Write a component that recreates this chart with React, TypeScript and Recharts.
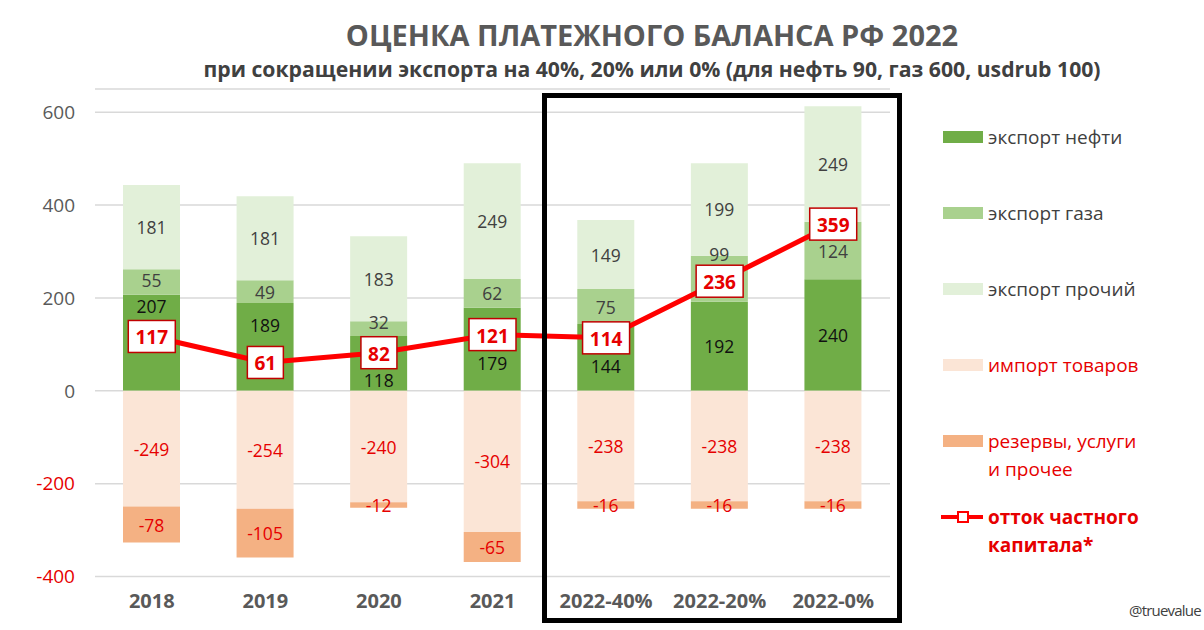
import React from 'react';
import {
  ComposedChart,
  Bar,
  Line,
  XAxis,
  YAxis,
  CartesianGrid,
  LabelList,
} from 'recharts';

// Payment balance, bln USD
const CATEGORIES = ['2018', '2019', '2020', '2021', '2022-40%', '2022-20%', '2022-0%'];
const OIL = [207, 189, 118, 179, 144, 192, 240];
const GAS = [55, 49, 32, 62, 75, 99, 124];
const OTHER = [181, 181, 183, 249, 149, 199, 249];
const IMPORTS = [-249, -254, -240, -304, -238, -238, -238];
const RESERVES = [-78, -105, -12, -65, -16, -16, -16];
const OUTFLOW = [117, 61, 82, 121, 114, 236, 359];
const Y_TICKS = [-400, -200, 0, 200, 400, 600];

// labels that were dragged by hand in the original so they don't hit the line boxes (px)
const OIL_NUDGE = [-37, -22, 17, 14, 9, 0, 0];
const GAS_NUDGE = [-2, 0, -7, 0, 0, -25, 0];

const FONT = '"Open Sans", "Noto Sans", sans-serif';
const RED = '#E60000';
const DARK = '#404040';
const GRAY = '#595959';

const SERIES = [
  { key: 'oil', name: 'экспорт нефти', color: '#70AD47', text: DARK },
  { key: 'gas', name: 'экспорт газа', color: '#A9D18E', text: DARK },
  { key: 'other', name: 'экспорт прочий', color: '#E2F0D9', text: DARK },
  { key: 'imports', name: 'импорт товаров', color: '#FBE5D6', text: RED },
  { key: 'reserves', name: 'резервы, услуги\nи прочее', color: '#F4B183', text: RED },
];

const data = CATEGORIES.map((period, i) => ({
  period,
  oil: OIL[i],
  gas: GAS[i],
  other: OTHER[i],
  imports: IMPORTS[i],
  reserves: RESERVES[i],
  outflow: OUTFLOW[i],
}));

function barLabel(color: string, nudge?: number[]) {
  return (props: any) => {
    const { x, y, width, height, value, index } = props;
    const dy = nudge ? nudge[index] || 0 : 0;
    return (
      <text
        x={Number(x) + Number(width) / 2}
        y={Number(y) + Number(height) / 2 + dy}
        fill={color}
        textAnchor="middle"
        dominantBaseline="central"
        fontSize={17.5}
        fontFamily={FONT}
      >
        {value}
      </text>
    );
  };
}

function OutflowLabel(props: any) {
  const { x, y, value } = props;
  const w = String(value).length * 11 + 14;
  return (
    <g>
      <rect x={x - w / 2} y={y - 16} width={w} height={32} fill="#fff" stroke="#C00000" strokeWidth={1.5} />
      <text
        x={x}
        y={y + 1}
        fill={RED}
        textAnchor="middle"
        dominantBaseline="central"
        fontSize={19}
        fontWeight="bold"
        fontFamily={FONT}
      >
        {value}
      </text>
    </g>
  );
}

function YTick({ x, y, payload }: any) {
  return (
    <text x={x} y={y} dy="0.36em" textAnchor="end" fontSize={19} fontFamily={FONT} fill={payload.value < 0 ? RED : GRAY}>
      {payload.value}
    </text>
  );
}

function XTick({ x, y, payload }: any) {
  return (
    <text x={x} y={y + 24} textAnchor="middle" dominantBaseline="central" fontSize={20} fontWeight="bold" fontFamily={FONT} fill={GRAY}>
      {payload.value}
    </text>
  );
}

function LegendBlock() {
  return (
    <div style={{ position: 'absolute', left: 941, top: 123, width: 263, fontFamily: FONT, fontSize: 19, lineHeight: '28px' }}>
      {SERIES.map(s => (
        <div key={s.key} style={{ height: 76, display: 'flex', alignItems: 'flex-start' }}>
          <div style={{ width: 40, height: 12, marginTop: 8, marginLeft: 2, background: s.color, flexShrink: 0 }} />
          <div style={{ marginLeft: 5, color: s.text, whiteSpace: 'pre' }}>{s.name}</div>
        </div>
      ))}
      <div style={{ display: 'flex', alignItems: 'flex-start' }}>
        <svg width={44} height={28} style={{ flexShrink: 0 }}>
          <line x1={0} y1={14} x2={42} y2={14} stroke="#FF0000" strokeWidth={4} />
          <rect x={17} y={9} width={10} height={10} fill="#fff" stroke="#FF0000" strokeWidth={2} />
        </svg>
        <div style={{ marginLeft: 3, color: RED, fontWeight: 'bold', whiteSpace: 'pre' }}>{'отток частного\nкапитала*'}</div>
      </div>
    </div>
  );
}

export default function App() {
  return (
    <div style={{ position: 'absolute', left: 0, top: 0, width: 1204, height: 630, background: '#fff', overflow: 'hidden' }}>
      <div style={{ position: 'absolute', left: 100, top: 20, width: 1104, textAlign: 'center', fontFamily: FONT, fontWeight: 'bold', fontSize: 29, lineHeight: '29px', color: GRAY }}>
        ОЦЕНКА ПЛАТЕЖНОГО БАЛАНСА РФ 2022
      </div>
      <div style={{ position: 'absolute', left: 100, top: 58, width: 1104, textAlign: 'center', fontFamily: FONT, fontWeight: 'bold', fontSize: 21.2, lineHeight: '22px', color: DARK }}>
        при сокращении экспорта на 40%, 20% или 0% (для нефть 90, газ 600, usdrub 100)
      </div>

      <ComposedChart
        width={1204}
        height={630}
        data={data}
        stackOffset="sign"
        margin={{ top: 89, right: 314, bottom: 23.5, left: 0 }}
      >
        <CartesianGrid vertical={false} stroke="#D9D9D9" strokeWidth={1.5} />
        <XAxis dataKey="period" height={30} axisLine={false} tickLine={false} tickSize={0} tickMargin={0} tick={<XTick />} interval={0} />
        <YAxis
          width={95}
          domain={[-400, 650]}
          ticks={Y_TICKS}
          interval={0}
          axisLine={false}
          tickLine={false}
          tickSize={0}
          tickMargin={20}
          tick={<YTick />}
        />
        <Bar dataKey="oil" stackId="s" barSize={57} fill="#70AD47" isAnimationActive={false}>
          <LabelList dataKey="oil" content={barLabel('#111', OIL_NUDGE)} />
        </Bar>
        <Bar dataKey="gas" stackId="s" barSize={57} fill="#A9D18E" isAnimationActive={false}>
          <LabelList dataKey="gas" content={barLabel(DARK, GAS_NUDGE)} />
        </Bar>
        <Bar dataKey="other" stackId="s" barSize={57} fill="#E2F0D9" isAnimationActive={false}>
          <LabelList dataKey="other" content={barLabel(DARK)} />
        </Bar>
        <Bar dataKey="imports" stackId="s" barSize={57} fill="#FBE5D6" isAnimationActive={false}>
          <LabelList dataKey="imports" content={barLabel(RED)} />
        </Bar>
        <Bar dataKey="reserves" stackId="s" barSize={57} fill="#F4B183" isAnimationActive={false}>
          <LabelList dataKey="reserves" content={barLabel(RED)} />
        </Bar>
        <Line
          type="linear"
          dataKey="outflow"
          stroke="#FF0000"
          strokeWidth={5}
          dot={false}
          activeDot={false}
          isAnimationActive={false}
        >
          <LabelList dataKey="outflow" content={OutflowLabel} />
        </Line>
      </ComposedChart>

      <LegendBlock />

      {/* frame around the 2022 scenarios */}
      <div style={{ position: 'absolute', left: 542, top: 93, width: 360, height: 530, border: '5px solid #000', boxSizing: 'border-box' }} />

      <div style={{ position: 'absolute', left: 1129, top: 600, fontFamily: FONT, fontSize: 15, color: DARK, letterSpacing: -0.8 }}>
        @truevalue
      </div>
    </div>
  );
}
